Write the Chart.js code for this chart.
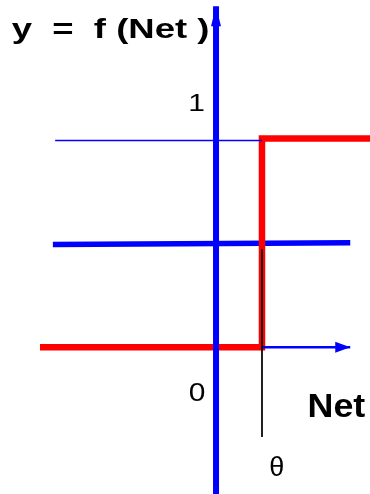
<!DOCTYPE html>
<html>
<head>
<meta charset="utf-8">
<script src="https://cdn.jsdelivr.net/npm/chart.js@4"></script>
<style>
  html, body { margin: 0; padding: 0; background: #fff; }
  #wrap { width: 370px; height: 494px; position: relative; }
</style>
</head>
<body>
<div id="wrap"><canvas id="stepChart"></canvas></div>
<script>
// threshold function y = f(Net), theta at Net = 1
const stepNet = [-3.83, 1, 1, 3.35];
const stepY = [0, 0, 1.01, 1.01];

const halfNet = [-3.55, 2.92];
const halfY = [0.497, 0.505];

const oneNet = [-3.5, 1];
const oneY = [1.0, 1.0];

const yAxisNet = [0, 0];
const yAxisY = [-0.71, 1.65];

const xAxisNet = [1, 2.92];
const xAxisY = [0, 0];

const thetaNet = [1, 1];
const thetaY = [0.475, -0.434];

function toPoints(xs, ys) {
    return xs.map((x, i) => ({ x: x, y: ys[i] }));
}

// draws an arrowhead at the last point of a dataset
const arrowPlugin = {
    id: 'arrowHeads',
    afterDatasetsDraw(chart) {
        const ctx = chart.ctx;
        chart.data.datasets.forEach((ds, i) => {
            if (!ds.arrowHead) return;
            const pts = chart.getDatasetMeta(i).data;
            const a = pts[pts.length - 2], b = pts[pts.length - 1];
            const ang = Math.atan2(b.y - a.y, b.x - a.x);
            const len = ds.arrowHead.length, w = ds.arrowHead.width / 2;
            ctx.save();
            ctx.translate(b.x, b.y);
            ctx.rotate(ang);
            ctx.fillStyle = ds.borderColor;
            ctx.beginPath();
            ctx.moveTo(0, 0);
            ctx.lineTo(-len, -w);
            ctx.lineTo(-len, w);
            ctx.closePath();
            ctx.fill();
            ctx.restore();
        });
    }
};

// text labels placed in data coordinates (the original text is a bit wide, hence stretch)
const FONT = '"Liberation Sans", Arial, sans-serif';
const labels = [
    { text: 'y  =  f (Net )', x: -4.445, y: 1.494, font: 'bold 28.5px ' + FONT, stretch: 1.28, align: 'left', base: 'alphabetic' },
    { text: '1', x: -0.425, y: 1.176, font: '24px ' + FONT, stretch: 1.25, align: 'center', base: 'middle' },
    { text: '0', x: -0.41, y: -0.225, font: '26.5px ' + FONT, stretch: 1.13, align: 'center', base: 'middle' },
    { text: 'Net', x: 1.99, y: -0.336, font: 'bold 33.5px ' + FONT, stretch: 1.07, align: 'left', base: 'alphabetic' },
    { text: 'θ', x: 1.32, y: -0.585, font: '27px ' + FONT, stretch: 1, align: 'center', base: 'middle' }
];

const labelPlugin = {
    id: 'textLabels',
    afterDraw(chart) {
        const ctx = chart.ctx;
        const sx = chart.scales.x, sy = chart.scales.y;
        labels.forEach(l => {
            ctx.save();
            ctx.fillStyle = '#000';
            ctx.font = l.font;
            ctx.textAlign = l.align;
            ctx.textBaseline = l.base;
            ctx.translate(sx.getPixelForValue(l.x), sy.getPixelForValue(l.y));
            ctx.scale(l.stretch, 1);
            ctx.fillText(l.text, 0, 0);
            ctx.restore();
        });
    }
};

const ctx = document.getElementById('stepChart').getContext('2d');
new Chart(ctx, {
    type: 'scatter',
    data: {
        datasets: [{
            label: 'theta',
            data: toPoints(thetaNet, thetaY),
            borderColor: '#000000',
            borderWidth: 1,
            order: 1
        }, {
            label: 'level 1',
            data: toPoints(oneNet, oneY),
            borderColor: '#0000ff',
            borderWidth: 1.5,
            order: 2
        }, {
            label: 'Net axis',
            data: toPoints(xAxisNet, xAxisY),
            borderColor: '#0000ff',
            borderWidth: 2.5,
            arrowHead: { length: 15, width: 11 },
            order: 2
        }, {
            label: 'y axis',
            data: toPoints(yAxisNet, yAxisY),
            borderColor: '#0000ff',
            borderWidth: 6,
            arrowHead: { length: 20, width: 10 },
            order: 3
        }, {
            label: 'f(Net)',
            data: toPoints(stepNet, stepY),
            borderColor: '#ff0000',
            borderWidth: 6.5,
            order: 4
        }, {
            label: 'half',
            data: toPoints(halfNet, halfY),
            borderColor: '#0000ff',
            borderWidth: 5.5,
            order: 5
        }]
    },
    options: {
        responsive: true,
        maintainAspectRatio: false,
        animation: false,
        showLine: true,
        layout: { padding: 0 },
        elements: {
            point: { radius: 0, hoverRadius: 0 },
            line: { tension: 0, fill: false }
        },
        scales: {
            x: { type: 'linear', min: -4.7, max: 3.35, display: false },
            y: { type: 'linear', min: -0.71, max: 1.68, display: false }
        },
        plugins: {
            legend: { display: false },
            tooltip: { enabled: false }
        }
    },
    plugins: [arrowPlugin, labelPlugin]
});
</script>
</body>
</html>
